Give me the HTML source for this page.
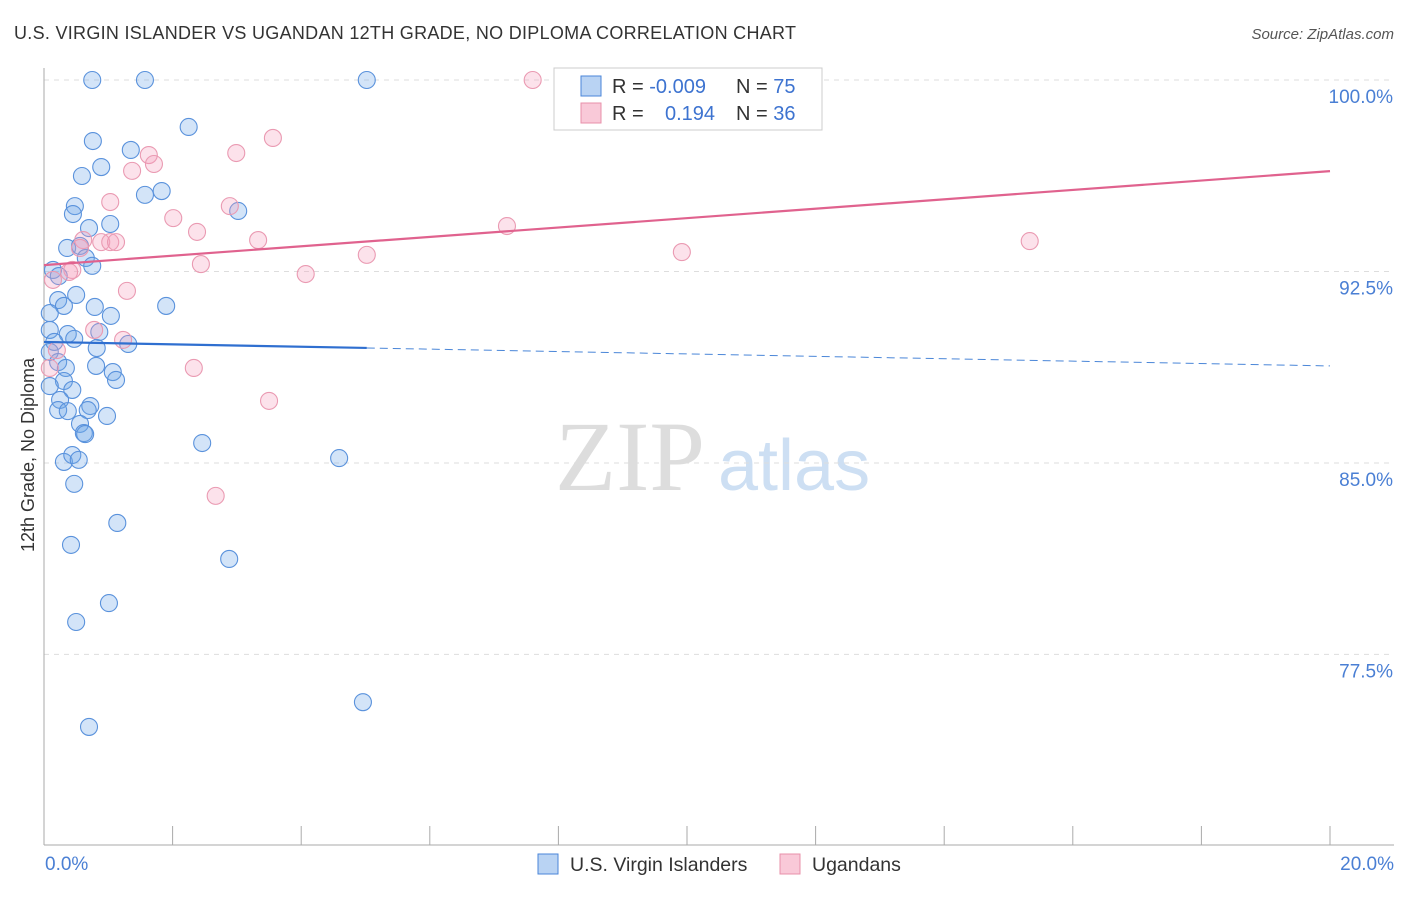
<!DOCTYPE html>
<html><head><meta charset="utf-8"><style>
body{margin:0;background:#fff;font-family:"Liberation Sans",sans-serif}
</style></head><body>
<svg width="1406" height="892" xmlns="http://www.w3.org/2000/svg">
<text x="14" y="39" font-size="18" fill="#333" textLength="782">U.S. VIRGIN ISLANDER VS UGANDAN 12TH GRADE, NO DIPLOMA CORRELATION CHART</text>
<text x="1394" y="39" font-size="15" fill="#555" font-style="italic" text-anchor="end">Source: ZipAtlas.com</text>
<g>
<text x="555" y="490" font-family="Liberation Serif,serif" font-size="100" fill="#ddd">ZIP</text>
<text x="718" y="490" font-size="72" fill="#cddff3">atlas</text>
</g>
<g id="grid"></g><g id="axes"></g><g id="pts"></g><g id="trends"></g>
<text transform="translate(34,455) rotate(-90)" font-size="18" fill="#333" text-anchor="middle">12th Grade, No Diploma</text>
<g>
<rect x="554" y="68" width="268" height="62" fill="#fff" stroke="#ccc"/>
<rect x="581" y="76" width="20" height="20" fill="#b9d3f3" stroke="#4a86d8"/>
<rect x="581" y="103" width="20" height="20" fill="#f9c9d8" stroke="#e890aa"/>
<text x="612" y="93" font-size="20" fill="#333">R = <tspan fill="#3d73d0">-0.009</tspan></text>
<text x="736" y="93" font-size="20" fill="#333">N = <tspan fill="#3d73d0">75</tspan></text>
<text x="612" y="120" font-size="20" fill="#333">R = <tspan fill="#3d73d0" x="665">0.194</tspan></text>
<text x="736" y="120" font-size="20" fill="#333">N = <tspan fill="#3d73d0">36</tspan></text>
</g>
<g>
<rect x="538" y="854" width="20" height="20" fill="#b9d3f3" stroke="#4a86d8"/>
<text x="570" y="871" font-size="19.5" fill="#333">U.S. Virgin Islanders</text>
<rect x="780" y="854" width="20" height="20" fill="#f9c9d8" stroke="#e890aa"/>
<text x="812" y="871" font-size="19.5" fill="#333">Ugandans</text>
</g>
</svg>
<script>
const yTicks=[100,92.5,85,77.5];
const yTickLabels=["100.0%","92.5%","85.0%","77.5%"];
const xTickLabels=["0.0%","20.0%"];
const blueX=[0.75,1.57,5.02,2.25,0.76,1.35,0.89,0.59,1.57,1.83,0.48,0.45,3.02,1.03,0.70,0.36,0.56,0.65,0.75,0.14,0.23,0.50,0.22,0.31,0.79,1.90,0.09,1.04,0.09,0.37,0.86,0.47,0.16,0.82,1.31,0.09,0.22,0.34,0.81,1.07,1.12,0.31,0.09,0.44,0.25,0.72,0.22,0.68,0.37,0.98,0.56,0.62,0.64,2.46,0.31,0.44,0.54,4.59,0.47,1.14,0.42,2.88,1.01,0.50,4.96,0.70];
const blueY=[100,100,100,98.16,97.61,97.26,96.59,96.24,95.50,95.65,95.06,94.75,94.87,94.36,94.20,93.42,93.50,93.03,92.72,92.56,92.32,91.58,91.38,91.15,91.11,91.15,90.87,90.76,90.21,90.05,90.13,89.86,89.74,89.50,89.66,89.35,88.95,88.72,88.80,88.56,88.25,88.21,88.01,87.86,87.47,87.23,87.07,87.07,87.03,86.84,86.53,86.17,86.13,85.78,85.04,85.31,85.12,85.19,84.18,82.65,81.79,81.24,79.51,78.77,75.63,74.66];
const pinkX=[7.60,3.56,2.99,1.63,1.71,1.37,1.03,2.89,2.01,2.38,7.20,3.33,0.61,0.89,1.03,1.12,0.56,5.02,9.92,15.33,2.44,0.44,0.39,4.07,0.14,1.29,0.78,1.23,0.20,2.33,0.09,3.50,2.67];
const pinkY=[100,97.73,97.14,97.06,96.71,96.44,95.22,95.06,94.59,94.05,94.28,93.73,93.73,93.65,93.65,93.65,93.42,93.15,93.26,93.69,92.79,92.56,92.48,92.40,92.17,91.74,90.21,89.82,89.42,88.72,88.72,87.43,83.71];
const blueTrend=[89.74,88.80];const blueSolidEnd=5.02;
const pinkTrend=[92.75,96.43];
const X=v=>44+v*64.3, Y=v=>80+(100-v)*25.53;
const NS="http://www.w3.org/2000/svg";
function mk(p,t,a){const e=document.createElementNS(NS,t);for(const k in a)e.setAttribute(k,a[k]);document.getElementById(p).appendChild(e);return e;}
yTicks.forEach((t,i)=>{
 const l=mk('grid','line',{x1:44,x2:1394,y1:Y(t),y2:Y(t),stroke:'#ddd','stroke-dasharray':'5,5'});
 
 
 const tx=mk('grid','text',{x:1393,y:Y(t)+23,'font-size':19,fill:'#4a7fd4','text-anchor':'end'});tx.textContent=yTickLabels[i];
 
 
});
const ax=mk('axes','line',{x1:44,x2:44,y1:68,y2:845,stroke:'#aaa'});


const bx=mk('axes','line',{x1:44,x2:1394,y1:845,y2:845,stroke:'#aaa'});


for(let i=0;i<=10;i++){const t=mk('axes','line',{x1:X(i*2),x2:X(i*2),y1:826,y2:845,stroke:'#aaa'});
 
 }
[[0,'start',45],[20,'end',1394]].forEach((d,i)=>{const t=mk('axes','text',{x:d[2],y:870,'font-size':19,fill:'#4a7fd4','text-anchor':d[1]});t.textContent=xTickLabels[i];
 
 });
blueX.forEach((x,i)=>{const c=mk('pts','circle',{cx:X(x),cy:Y(blueY[i]),r:8.5,fill:'rgba(110,165,232,0.3)',stroke:'#5a92dc','stroke-width':1.1});
 
 });
pinkX.forEach((x,i)=>{const c=mk('pts','circle',{cx:X(x),cy:Y(pinkY[i]),r:8.5,fill:'rgba(244,160,188,0.3)',stroke:'#ea9ab2','stroke-width':1.1});
 
 });
const bAt=x=>blueTrend[0]+(blueTrend[1]-blueTrend[0])*x/20;
const b1=mk('trends','line',{x1:X(0),y1:Y(bAt(0)),x2:X(blueSolidEnd),y2:Y(bAt(blueSolidEnd)),stroke:'#2f6fd0','stroke-width':2.2});


const b2=mk('trends','line',{x1:X(blueSolidEnd),y1:Y(bAt(blueSolidEnd)),x2:X(20),y2:Y(bAt(20)),stroke:'#4a86d8','stroke-width':1,'stroke-dasharray':'8,5'});


const p1=mk('trends','line',{x1:X(0),y1:Y(pinkTrend[0]),x2:X(20),y2:Y(pinkTrend[1]),stroke:'#e0628e','stroke-width':2.2});


</script>
</body></html>
